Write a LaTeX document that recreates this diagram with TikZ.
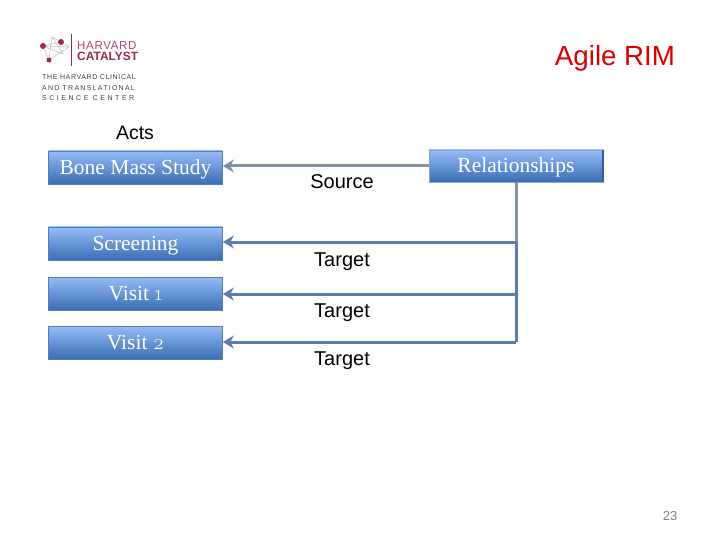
\documentclass[tikz,border=0pt]{standalone}
\usepackage{fontspec}
\setmainfont{Liberation Sans}
\newfontfamily\boxfont[Numbers=OldStyle]{Latin Modern Roman}
\newfontfamily\serfont{Liberation Serif}
\newfontfamily\logoa[LetterSpace=9]{Liberation Sans}
\newfontfamily\logob[LetterSpace=18]{Liberation Sans}
\newfontfamily\logoc[LetterSpace=36]{Liberation Sans}
\newfontfamily\logomid[LetterSpace=6]{Liberation Sans}
\usetikzlibrary{arrows.meta}
\definecolor{linkblue}{HTML}{5A7DAB}
\definecolor{linkgrey}{HTML}{8390A6}
\definecolor{logored}{HTML}{9C2A45}
\definecolor{boxtop}{HTML}{95BCF7}
\definecolor{boxbot}{HTML}{3A6DB4}
\definecolor{boxdark}{HTML}{3A5F94}
\tikzset{%
    blk/.style={rectangle,minimum width=174pt,inner sep=0pt,draw=linkblue,line width=0.7pt,
        top color=boxtop,bottom color=boxbot,text=white,text height=14pt,text depth=0pt,
        font=\serfont\fontsize{21.5}{22}\selectfont},
    act/.style={blk,minimum height=33pt},
    rel/.style={blk,minimum height=32pt,draw=boxbot!60!white},
    lab/.style={inner sep=0pt,anchor=base,font=\fontsize{20}{20}\selectfont},
    lnk/.style={line width=3pt,draw=linkblue},
    pra/.style={lnk,{Stealth[length=11pt,width=13pt]}-},
    net/.style={line width=0.4pt,draw=gray!60},
    dot/.style={circle,fill=logored,inner sep=0pt,minimum size=6pt},
    lgo/.style={inner sep=0pt,anchor=west,text=black!75},
}

\begin{document}
\begin{tikzpicture}[x=1pt,y=-1pt]
    \useasboundingbox (0,0) rectangle (720,540);
    % logo
    \node [dot] (d1) at (43,46) {};
    \node [dot] (d2) at (61,42) {};
    \node [dot,minimum size=5pt] (d3) at (49,60) {};
    \coordinate (n1) at (69,47);
    \coordinate (n2) at (52,37);
    \coordinate (n3) at (63,54);
    \draw [net] (d1)--(d2)--(n1)--(d3)--(d1)--(n3)--(n2)--(d2) (n2)--(d3) (d1)--(n1);
    \draw [line width=0.6pt,logored] (71,34)--(71,66);
    \node [inner sep=0pt,anchor=west,text=logored!85] (har) at (77,45.5)
        {\logomid\fontsize{11.5}{12}\selectfont HARVARD};
    \node [inner sep=0pt,anchor=west,text=logored] (cat) at (77,56)
        {\bfseries\fontsize{12}{12}\selectfont CATALYST};
    \node [lgo] (l1) at (42,77) {\logoa\fontsize{7}{7}\selectfont THE HARVARD CLINICAL};
    \node [lgo] (l2) at (42,88) {\logob\fontsize{7}{7}\selectfont AND TRANSLATIONAL};
    \node [lgo] (l3) at (42,98) {\logoc\fontsize{7}{7}\selectfont SCIENCE CENTER};
    % title
    \node [lab,text=red!85!black,font=\fontsize{27.7}{28}\selectfont] (title) at (615,66) {Agile RIM};
    \node [lab,font=\fontsize{19.5}{20}\selectfont] (acts) at (135,140) {Acts};
    % boxes
    \node [act] (bone) at (135.5,167.5) {Bone Mass Study};
    \node [act] (scr) at (135.5,243.5) {Screening};
    \node [act] (v1) at (135.5,293.5) {Visit {\boxfont 1}};
    \node [act] (v2) at (135.5,342.5) {Visit {\boxfont 2}};
    \node [rel] (rels) at (516,166) {Relationships};
    \draw [line width=2pt,boxdark] (rels.north east)--(rels.south east);
    % connectors
    \coordinate (j1) at (516,242);
    \coordinate (j2) at (516,294);
    \coordinate (j3) at (516,342);
    \draw [line width=3pt,linkgrey] (rels.south-|j1)--(j1);
    \draw [lnk] (j1)--(j3);
    \draw [pra,draw=linkgrey,{Stealth[length=11pt,width=13pt,fill=linkblue]}-] (bone.east|-rels.west)--(rels.west);
    \draw [pra] (scr.east|-j1)--(j1);
    \draw [pra] (v1.east|-j2)--(j2);
    \draw [pra] (v2.east|-j3)--(j3);
    % labels
    \node [lab] (src) at (342,189) {Source};
    \node [lab] (t1) at (342,266) {Target};
    \node [lab] (t2) at (342,317) {Target};
    \node [lab] (t3) at (342,365) {Target};
    \node [inner sep=0pt,text=gray,font=\fontsize{13}{13}\selectfont] (page) at (670,516) {23};
\end{tikzpicture}
\end{document}
